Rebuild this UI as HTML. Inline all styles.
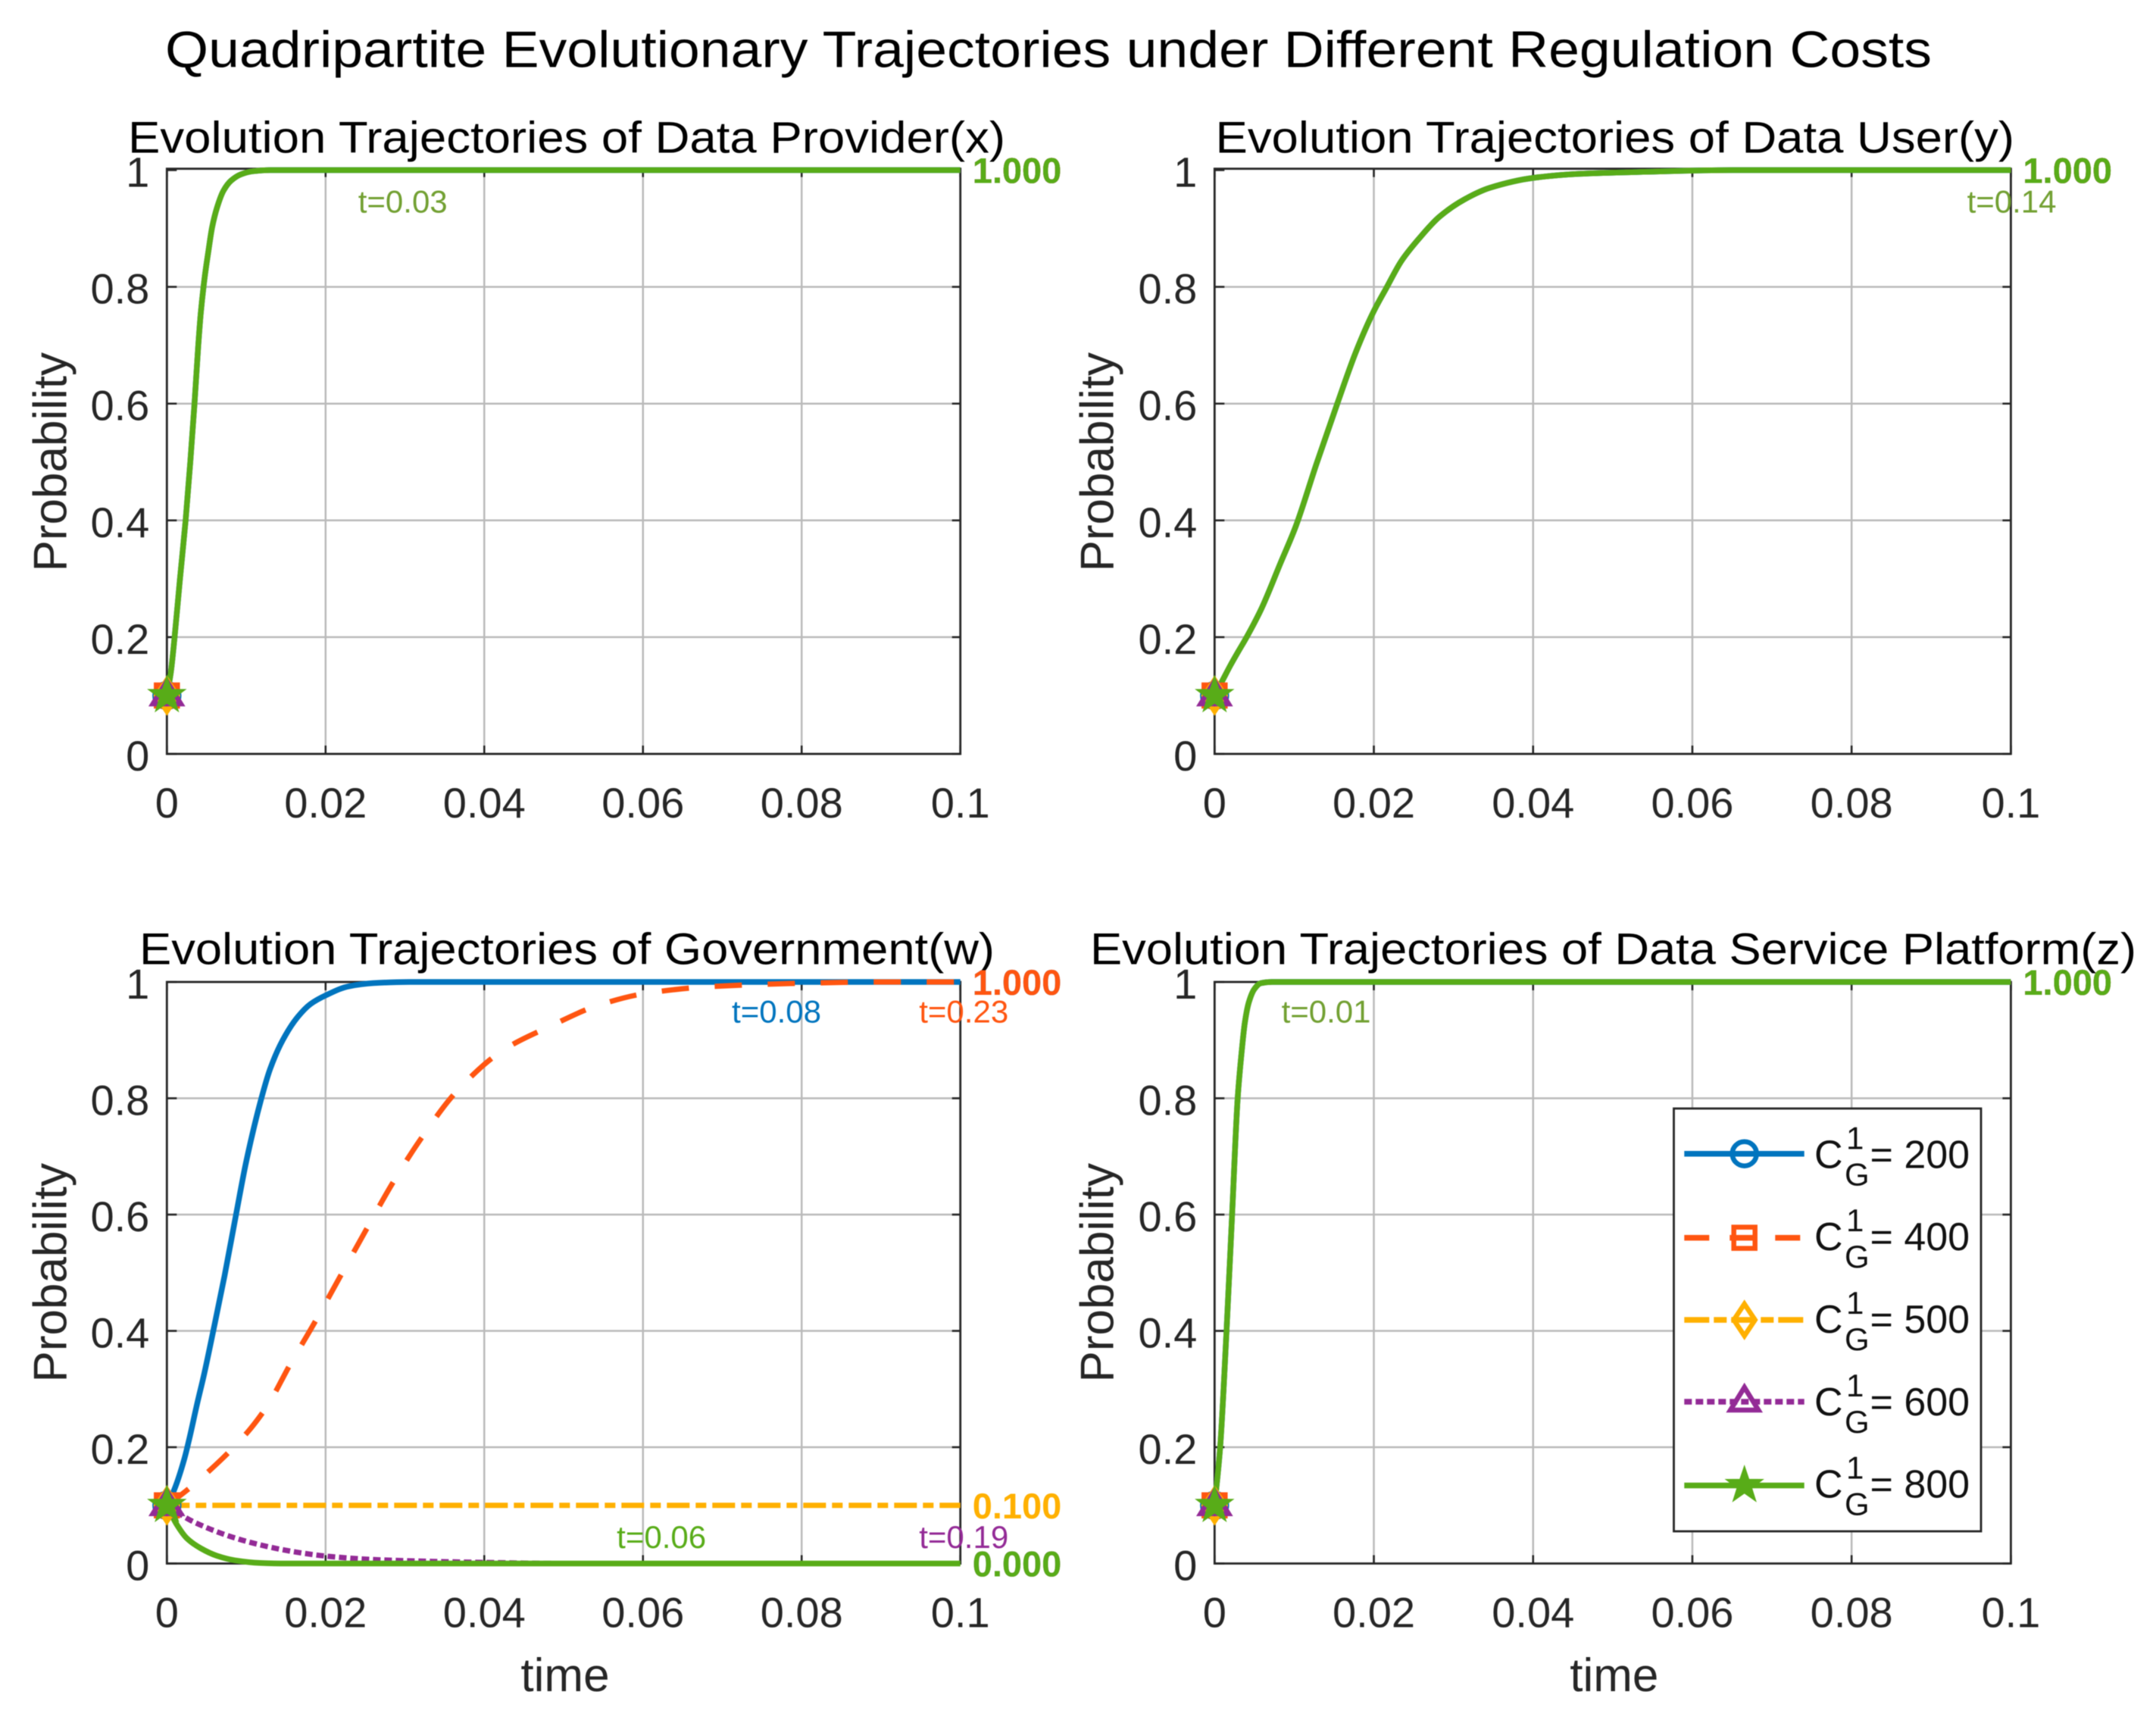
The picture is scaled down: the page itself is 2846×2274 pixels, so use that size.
<!DOCTYPE html>
<html lang="en">
<head>
<meta charset="utf-8">
<title>Quadripartite Evolutionary Trajectories under Different Regulation Costs</title>
<style>
html,body{margin:0;padding:0;background:#fff;width:2846px;height:2274px;overflow:hidden}
svg{display:block;font-family:"Liberation Sans",Arial,sans-serif;filter:blur(0.6px)}
</style>
</head>
<body>
<svg id="figure" xmlns="http://www.w3.org/2000/svg" width="2846" height="2274" viewBox="0 0 2846 2274">
<rect x="0" y="0" width="2846" height="2274" fill="#ffffff"/>
<text x="218" y="88.5" font-size="68" fill="#000000" textLength="2332" lengthAdjust="spacingAndGlyphs">Quadripartite Evolutionary Trajectories under Different Regulation Costs</text>
</svg>
<script>
const xTickValues = [0, 0.02, 0.04, 0.06, 0.08, 0.1];
const xTickLabels = ['0', '0.02', '0.04', '0.06', '0.08', '0.1'];
const yTickValues = [0, 0.2, 0.4, 0.6, 0.8, 1];
const yTickLabels = ['0', '0.2', '0.4', '0.6', '0.8', '1'];
const costLevels = [200, 400, 500, 600, 800];

const providerTime = [0, 0.0005, 0.00097, 0.00165, 0.00236, 0.00295, 0.00348, 0.00395, 0.00427, 0.00475, 0.00522, 0.0057, 0.00634, 0.00713, 0.00809, 0.00936, 0.0108, 0.013, 0.1];
const providerProb = [0.1, 0.14, 0.2, 0.3, 0.4, 0.5, 0.6, 0.6987, 0.755, 0.815, 0.86, 0.902, 0.9367, 0.9647, 0.982, 0.9929, 0.998, 1, 1];

const userTime = [0, 0.001, 0.002, 0.003, 0.00397, 0.00587, 0.00825, 0.0102, 0.0128, 0.0154, 0.01776, 0.01998, 0.02157, 0.02347, 0.02569, 0.02823, 0.0314, 0.03458, 0.0402, 0.0457, 0.0538, 0.065, 0.1];
const userProb = [0.1, 0.126, 0.152, 0.176, 0.1987, 0.2484, 0.326, 0.39, 0.497, 0.5996, 0.689, 0.758, 0.798, 0.8445, 0.883, 0.92, 0.95, 0.9697, 0.987, 0.9935, 0.997, 1, 1];

const platformTime = [0, 0.0007, 0.0015, 0.0022, 0.0029, 0.0034, 0.0038, 0.0043, 0.005, 0.0058, 0.0072, 0.1];
const platformProb = [0.1, 0.2, 0.4, 0.6, 0.8, 0.88, 0.93, 0.965, 0.988, 0.998, 1, 1];

const govBlueTime = [0, 0.0009, 0.0022, 0.0028, 0.0038, 0.0047, 0.00584, 0.00727, 0.00871, 0.00998, 0.01189, 0.013, 0.0146, 0.0165, 0.0181, 0.0201, 0.0229, 0.026, 0.0305, 0.1];
const govBlueProb = [0.1, 0.126, 0.18, 0.213, 0.274, 0.326, 0.3997, 0.495, 0.5996, 0.69, 0.799, 0.85, 0.9, 0.94, 0.962, 0.9775, 0.9925, 0.998, 1, 1];
const govOrangeTime = [0, 0.00234, 0.00695, 0.00855, 0.0103, 0.01157, 0.01284, 0.0154, 0.01873, 0.0219, 0.0251, 0.02844, 0.0321, 0.0364, 0.0423, 0.0483, 0.0543, 0.0604, 0.0682, 0.0787, 0.09, 0.1];
const govOrangeProb = [0.1, 0.124, 0.18, 0.202, 0.228, 0.25, 0.275, 0.339, 0.417, 0.495, 0.5735, 0.654, 0.732, 0.81, 0.882, 0.9238, 0.9596, 0.9805, 0.9918, 0.9974, 1, 1];
const govGoldTime = [0, 0.1];
const govGoldProb = [0.1, 0.1];
const govPurpleTime = [0, 0.00313, 0.0103, 0.0162, 0.0203, 0.026, 0.0334, 0.0397, 0.05, 0.1];
const govPurpleProb = [0.1, 0.0732, 0.0371, 0.0198, 0.0124, 0.0068, 0.0036, 0.002, 0, 0];
const govGreenTime = [0, 0.00122, 0.0025, 0.00425, 0.0063, 0.00855, 0.0117, 0.015, 0.1];
const govGreenProb = [0.1, 0.0675, 0.0436, 0.0263, 0.0133, 0.0055, 0.001, 0, 0];

const providerSeries = [[providerTime, providerProb], [providerTime, providerProb], [providerTime, providerProb], [providerTime, providerProb], [providerTime, providerProb]];
const userSeries = [[userTime, userProb], [userTime, userProb], [userTime, userProb], [userTime, userProb], [userTime, userProb]];
const platformSeries = [[platformTime, platformProb], [platformTime, platformProb], [platformTime, platformProb], [platformTime, platformProb], [platformTime, platformProb]];
const governmentSeries = [[govBlueTime, govBlueProb], [govOrangeTime, govOrangeProb], [govGoldTime, govGoldProb], [govPurpleTime, govPurpleProb], [govGreenTime, govGreenProb]];

const seriesColors = ['#0074BE', '#FF5510', '#FFB000', '#932A96', '#58AC18'];
const seriesDashes = ['none', '36 34', '30 8 14 8', '10 5', 'none'];
const seriesWidths = [7.5, 7, 7, 7, 7.5];
const seriesKeys = ['blue', 'orange', 'gold', 'purple', 'green'];
const markerKinds = ['circle', 'square', 'diamond', 'triangle', 'star'];
const OLIVE = '#72A032';

const panels = [
  { key:'provider', title:'Evolution Trajectories of Data Provider(x)', series:providerSeries,
    left:220.3, right:1267.7, top:224.5, boxTop:222.7, bottom:995,
    titleX:169, titleW:1158, titleY:201.6, ylabelX:87.5, xlabel:false,
    notes:[{text:'t=0.03', t:0.0241, v:0.927, color:OLIVE}] },
  { key:'user', title:'Evolution Trajectories of Data User(y)', series:userSeries,
    left:1603.3, right:2654.4, top:224.5, boxTop:222.7, bottom:995,
    titleX:1604.5, titleW:1054.5, titleY:201.6, ylabelX:1469.5, xlabel:false,
    notes:[{text:'t=0.14', t:0.0945, v:0.927, color:OLIVE}] },
  { key:'government', title:'Evolution Trajectories of Government(w)', series:governmentSeries,
    left:220.3, right:1267.7, top:1296, boxTop:1296, bottom:2063.5,
    titleX:184, titleW:1129, titleY:1272.6, ylabelX:87.5, xlabel:true,
    notes:[
      {text:'t=0.08', t:0.0712, v:0.93, color:seriesColors[0]},
      {text:'t=0.23', t:0.0948, v:0.93, color:seriesColors[1]},
      {text:'t=0.06', t:0.0567, v:0.027, color:seriesColors[4]},
      {text:'t=0.19', t:0.0948, v:0.027, color:seriesColors[3]}
    ] },
  { key:'platform', title:'Evolution Trajectories of Data Service Platform(z)', series:platformSeries,
    left:1603.3, right:2654.4, top:1296, boxTop:1296, bottom:2063.5,
    titleX:1439, titleW:1381, titleY:1272.6, ylabelX:1469.5, xlabel:true,
    notes:[{text:'t=0.01', t:0.0084, v:0.93, color:OLIVE}] }
];

const NS = 'http://www.w3.org/2000/svg';
const figure = document.getElementById('figure');

function make(tag, attrs, parent, text) {
  const node = document.createElementNS(NS, tag);
  for (const k in attrs) node.setAttribute(k, attrs[k]);
  if (text !== undefined) node.textContent = text;
  parent.appendChild(node);
  return node;
}

function smoothPath(px, py) {
  const n = px.length;
  if (n < 3) return 'M' + px[0] + ' ' + py[0] + 'L' + px[n - 1] + ' ' + py[n - 1];
  const slopes = [];
  for (let i = 0; i < n - 1; i++) slopes.push((py[i + 1] - py[i]) / Math.max(px[i + 1] - px[i], 1e-6));
  const m = [slopes[0]];
  for (let i = 1; i < n - 1; i++) {
    if (slopes[i - 1] * slopes[i] <= 0) m.push(0);
    else {
      const w1 = 2 * (px[i + 1] - px[i]) + (px[i] - px[i - 1]);
      const w2 = (px[i + 1] - px[i]) + 2 * (px[i] - px[i - 1]);
      m.push((w1 + w2) / (w1 / slopes[i - 1] + w2 / slopes[i]));
    }
  }
  m.push(slopes[n - 2]);
  let d = 'M' + px[0].toFixed(2) + ' ' + py[0].toFixed(2);
  for (let i = 0; i < n - 1; i++) {
    const h = (px[i + 1] - px[i]) / 3;
    d += 'C' + (px[i] + h).toFixed(2) + ' ' + (py[i] + m[i] * h).toFixed(2) + ' ' +
         (px[i + 1] - h).toFixed(2) + ' ' + (py[i + 1] - m[i + 1] * h).toFixed(2) + ' ' +
         px[i + 1].toFixed(2) + ' ' + py[i + 1].toFixed(2);
  }
  return d;
}

function drawMarker(kind, cx, cy, color, parent) {
  const stroke = {fill:'none', stroke:color, 'stroke-width':6.5, 'stroke-linejoin':'miter'};
  if (kind === 'circle') return make('circle', Object.assign({cx:cx, cy:cy, r:16}, stroke), parent);
  if (kind === 'square') return make('rect', Object.assign({x:cx - 14, y:cy - 14, width:28, height:28}, stroke), parent);
  if (kind === 'diamond') return make('polygon', Object.assign({points:[cx, cy - 21, cx + 14, cy, cx, cy + 21, cx - 14, cy].join(' ')}, stroke), parent);
  if (kind === 'triangle') return make('polygon', Object.assign({points:[cx, cy - 19, cx + 18.5, cy + 11, cx - 18.5, cy + 11].join(' ')}, stroke), parent);
  const pts = [];
  for (let i = 0; i < 10; i++) {
    const r = i % 2 ? 10.2 : 26;
    const a = -Math.PI / 2 + i * Math.PI / 5;
    pts.push((cx + r * Math.cos(a)).toFixed(2), (cy + r * Math.sin(a)).toFixed(2));
  }
  return make('polygon', {points:pts.join(' '), fill:color, stroke:color, 'stroke-width':1}, parent);
}

panels.forEach(function (p) {
  const xScale = function (t) { return p.left + (p.right - p.left) * t / 0.1; };
  const yScale = function (v) { return p.bottom - (p.bottom - p.top) * v; };

  const g = make('g', {}, figure);
  
  

  const bg = make('rect', {x:p.left, y:p.boxTop, width:p.right - p.left, height:p.bottom - p.boxTop, fill:'#ffffff'}, g);
  
  

  xTickValues.forEach(function (tv, i) {
    const x = xScale(tv);
    if (i > 0 && i < xTickValues.length - 1) {
      const gl = make('line', {x1:x, x2:x, y1:p.boxTop, y2:p.bottom, stroke:'#bababa', 'stroke-width':2.5}, g);
      
      
    }
    const tb = make('line', {x1:x, x2:x, y1:p.bottom, y2:p.bottom - 11, stroke:'#262626', 'stroke-width':2.6}, g);
    
    
    const tt = make('line', {x1:x, x2:x, y1:p.boxTop, y2:p.boxTop + 11, stroke:'#262626', 'stroke-width':2.6}, g);
    
    
    const lb = make('text', {x:x, y:p.bottom + 84, 'font-size':56, fill:'#262626', 'text-anchor':'middle'}, g, xTickLabels[i]);
    
    
  });

  yTickValues.forEach(function (val, i) {
    const y = yScale(val);
    if (i > 0 && i < yTickValues.length - 1) {
      const gl = make('line', {x1:p.left, x2:p.right, y1:y, y2:y, stroke:'#bababa', 'stroke-width':2.5}, g);
      
      
    }
    const tl = make('line', {x1:p.left, x2:p.left + 13, y1:y, y2:y, stroke:'#262626', 'stroke-width':2.6}, g);
    
    
    const tr = make('line', {x1:p.right, x2:p.right - 11, y1:y, y2:y, stroke:'#262626', 'stroke-width':2.6}, g);
    
    
    const lb = make('text', {x:p.left - 23, y:y + 22, 'font-size':56, fill:'#262626', 'text-anchor':'end'}, g, yTickLabels[i]);
    
    
  });

  const box = make('rect', {x:p.left, y:p.boxTop, width:p.right - p.left, height:p.bottom - p.boxTop, fill:'none', stroke:'#262626', 'stroke-width':2.8}, g);
  
  

  const title = make('text', {x:p.titleX, y:p.titleY, 'font-size':58, fill:'#000000', textLength:p.titleW, lengthAdjust:'spacingAndGlyphs'}, g, p.title);
  
  

  const midY = (p.top + p.bottom) / 2;
  const yl = make('text', {x:0, y:0, 'font-size':62, fill:'#262626', 'text-anchor':'middle', transform:'translate(' + p.ylabelX + ' ' + (midY) + ') rotate(-90)'}, g, 'Probability');
  
  

  if (p.xlabel) {
    const xl = make('text', {x:(p.left + p.right) / 2 + 2, y:2232, 'font-size':62, fill:'#262626', 'text-anchor':'middle'}, g, 'time');
    
    
  }

  p.series.forEach(function (s, i) {
    const attrs = {d:smoothPath(s[0].map(xScale), s[1].map(yScale)), fill:'none', stroke:seriesColors[i], 'stroke-width':seriesWidths[i], 'stroke-linejoin':'round'};
    if (seriesDashes[i] !== 'none') attrs['stroke-dasharray'] = seriesDashes[i];
    const line = make('path', attrs, g);
    
    
  });

  p.series.forEach(function (s, i) {
    const mk = drawMarker(markerKinds[i], xScale(s[0][0]), yScale(s[1][0]), seriesColors[i], g);
    
    
  });

  p.series.forEach(function (s, i) {
    const last = s[1][s[1].length - 1];
    const ev = make('text', {x:p.right + 16, y:yScale(last) + 17, 'font-size':47, 'font-weight':'bold', fill:seriesColors[i]}, g, last.toFixed(3));
    
    
  });

  p.notes.forEach(function (n) {
    const note = make('text', {x:xScale(n.t), y:yScale(n.v), 'font-size':42, fill:n.color}, g, n.text);
    
    
  });
});

const legend = make('g', {}, figure);



const legendBox = make('rect', {x:2209.5, y:1463, width:405.5, height:558, fill:'#ffffff', stroke:'#262626', 'stroke-width':2.8}, legend);



const legendLineY = [1522.7, 1633.6, 1742, 1850, 1960.5];
const legendDashes = ['none', '33 27', '33 6 17 6', '10 5', 'none'];

costLevels.forEach(function (cost, i) {
  const entry = make('g', {}, legend);
  
  

  const ly = legendLineY[i];
  const attrs = {x1:2223.3, x2:2381.7, y1:ly, y2:ly, stroke:seriesColors[i], 'stroke-width':7.5};
  if (legendDashes[i] !== 'none') attrs['stroke-dasharray'] = legendDashes[i];
  const sample = make('line', attrs, entry);
  
  

  const mk = drawMarker(markerKinds[i], 2302.7, ly, seriesColors[i], entry);
  
  

  const base = 1541.4 + 108.8 * i;
  const cText = make('text', {x:2395, y:base, 'font-size':52, fill:'#111111'}, entry, 'C');
  
  

  const supText = make('text', {x:2437, y:base - 25, 'font-size':42, fill:'#111111'}, entry, '1');
  
  

  const subText = make('text', {x:2435, y:base + 23, 'font-size':42, fill:'#111111'}, entry, 'G');
  
  

  const valText = make('text', {x:2468.5, y:base, 'font-size':52, fill:'#111111', 'xml:space':'preserve'}, entry, '= ' + cost);
  
  
});
</script>
</body>
</html>
